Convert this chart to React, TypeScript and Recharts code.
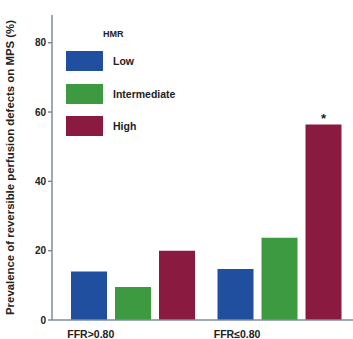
import { BarChart, Bar, XAxis, YAxis, LabelList } from "recharts";

const groups = ["FFR>0.80", "FFR≤0.80"];
const low = [14, 14.7];
const intermediate = [9.5, 23.7];
const high = [20, 56.4];
const significance = ["", "*"];
const yTicks = [0, 20, 40, 60, 80];

const series = [
  { key: "low", name: "Low", color: "#1f4f9e" },
  { key: "intermediate", name: "Intermediate", color: "#3d9a40" },
  { key: "high", name: "High", color: "#8a1a40" },
];

const data = groups.map((g, i) => ({
  group: g,
  low: low[i],
  intermediate: intermediate[i],
  high: high[i],
  sig: significance[i],
}));

const font = "'Liberation Sans', Arial, sans-serif";
const axisColor = "#7d8c9c";

function HmrLegend() {
  return (
    <div
      style={{
        position: "absolute",
        left: 66,
        top: 29,
        fontFamily: font,
        fontWeight: "bold",
        color: "#222",
      }}
    >
      <div style={{ fontSize: 9, marginLeft: 37, marginBottom: 6 }}>HMR</div>
      {series.map((s) => (
        <div
          key={s.key}
          style={{ display: "flex", alignItems: "center", height: 32.5 }}
        >
          <div
            style={{ width: 37, height: 20, background: s.color, marginRight: 10 }}
          />
          <span style={{ fontSize: 10.5 }}>{s.name}</span>
        </div>
      ))}
    </div>
  );
}

export default function App() {
  return (
    <div
      style={{
        position: "absolute",
        left: 0,
        top: 0,
        width: 353,
        height: 339,
        background: "#fff",
      }}
    >
      <BarChart
        width={353}
        height={339}
        data={data}
        margin={{ top: 15, right: 0, bottom: 0, left: 0 }}
        barGap={8}
        barCategoryGap={12}
      >
        <XAxis
          dataKey="group"
          height={19}
          stroke={axisColor}
          strokeWidth={1.5}
          tickLine={false}
          padding={{ left: 8, right: 0 }}
          tick={(p: any) => (
            <text
              x={p.x - 66}
              y={p.y + 10}
              fontFamily={font}
              fontWeight="bold"
              fontSize={10.5}
              fill="#222"
            >
              {p.payload.value}
            </text>
          )}
        />
        <YAxis
          width={52}
          domain={[0, 88]}
          ticks={yTicks}
          stroke={axisColor}
          strokeWidth={1.5}
          tickSize={4}
          tick={{ fontFamily: font, fontWeight: "bold", fontSize: 10, fill: "#222" }}
          label={{
            content: (p: any) => {
              const vb = p.viewBox;
              const cy = vb.y + vb.height / 2;
              return (
                <text
                  x={14}
                  y={cy}
                  transform={`rotate(-90 14 ${cy})`}
                  textAnchor="middle"
                  fontFamily={font}
                  fontWeight="bold"
                  fontSize={11.4}
                  fill="#222"
                >
                  Prevalence of reversible perfusion defects on MPS (%)
                </text>
              );
            },
          }}
        />
        {series.map((s) => (
          <Bar
            key={s.key}
            dataKey={s.key}
            name={s.name}
            fill={s.color}
            barSize={36}
            isAnimationActive={false}
          >
            {s.key === "high" && (
              <LabelList
                dataKey="sig"
                position="top"
                offset={2}
                style={{ fontFamily: font, fontWeight: "bold", fontSize: 13, fill: "#222" }}
              />
            )}
          </Bar>
        ))}
      </BarChart>
      <HmrLegend />
    </div>
  );
}
